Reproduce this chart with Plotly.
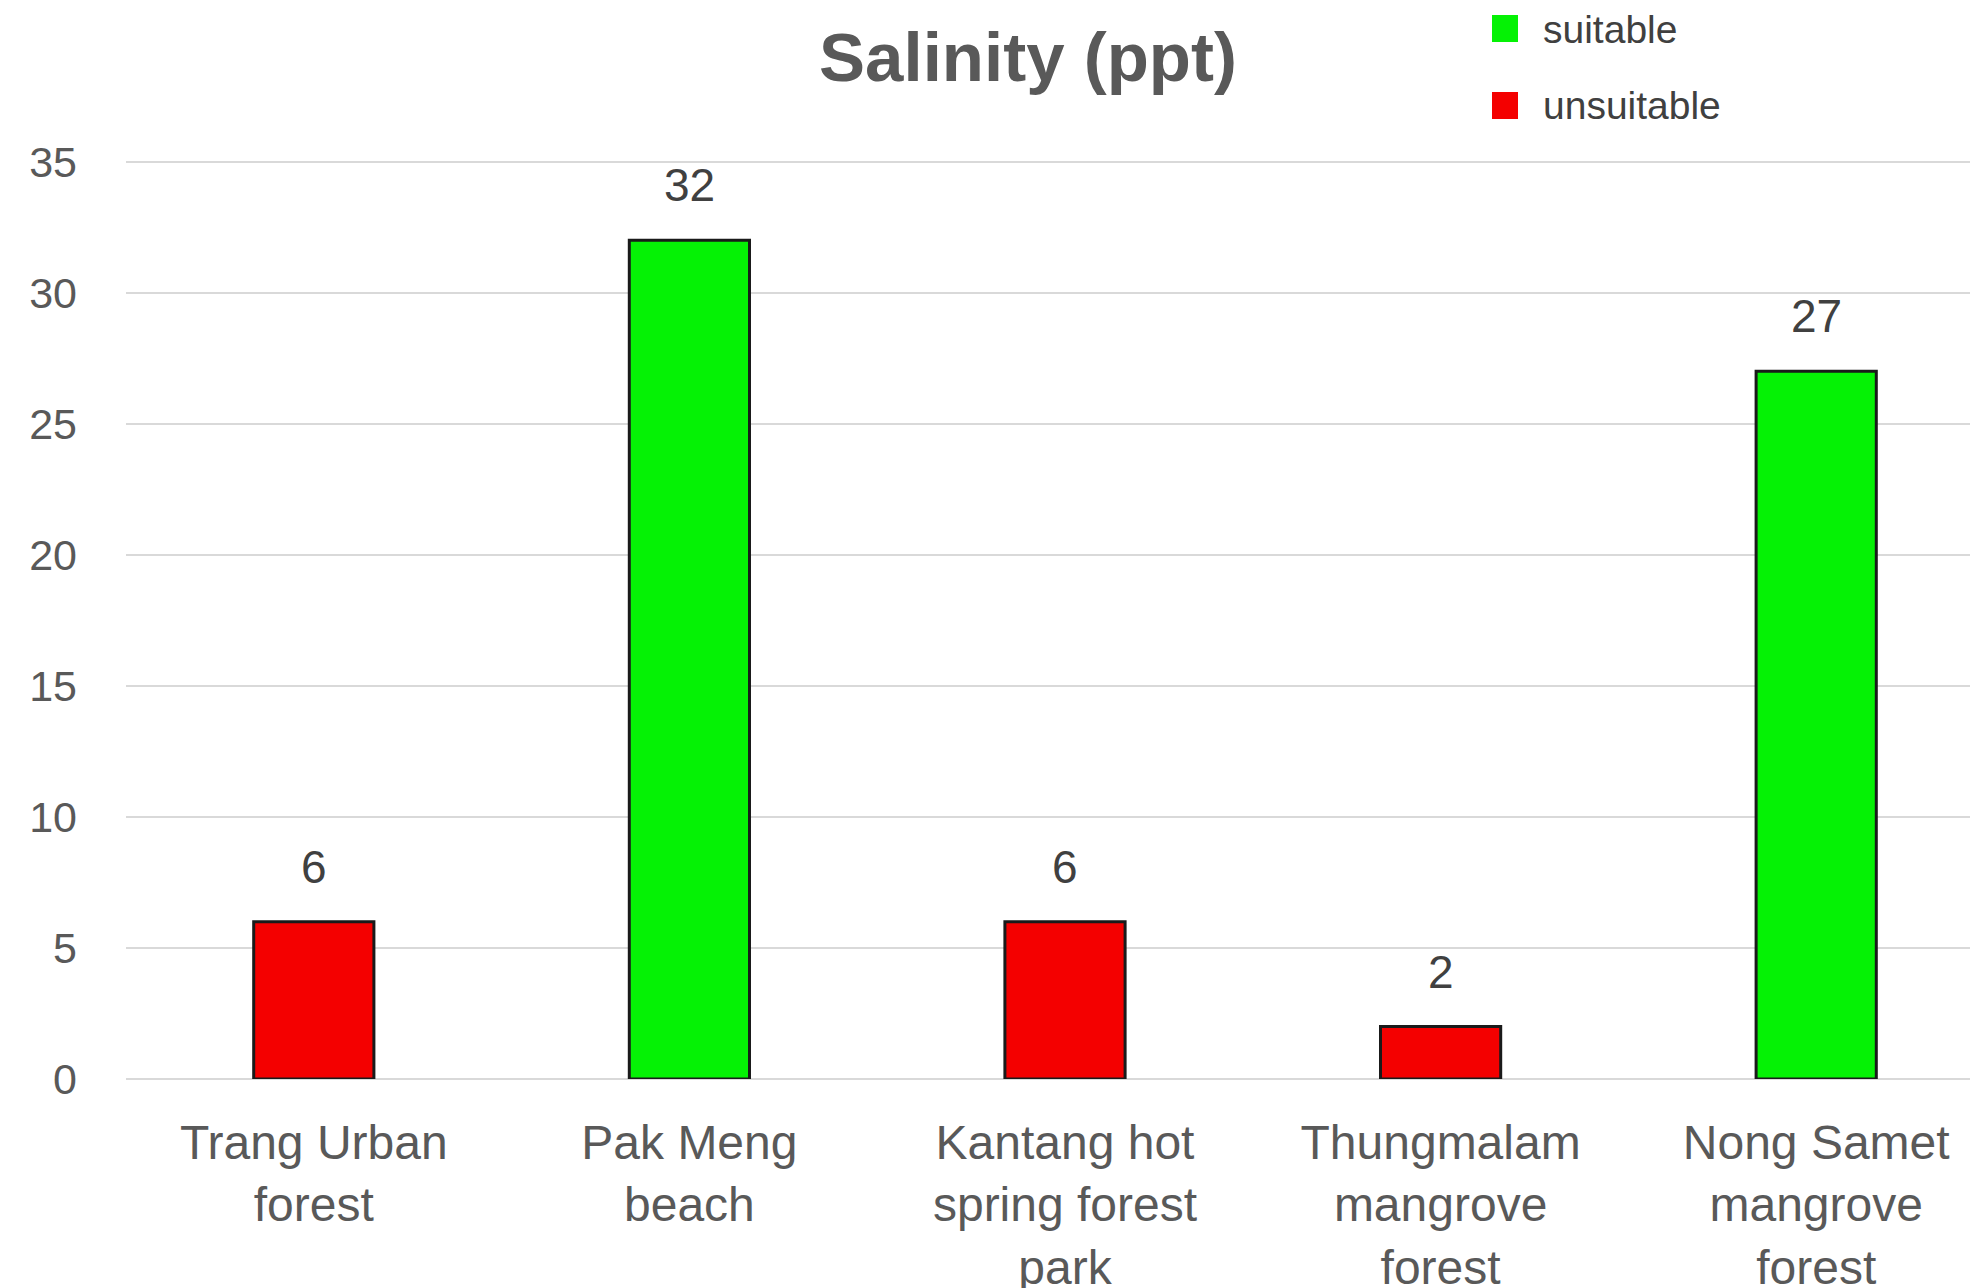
import plotly.graph_objects as go

# ---- data ----
categories = ["Trang Urban<br>forest", "Pak Meng<br>beach", "Kantang hot<br>spring forest<br>park",
              "Thungmalam<br>mangrove<br>forest", "Nong Samet<br>mangrove<br>forest"]
salinity = [6, 32, 6, 2, 27]
status = ["unsuitable", "suitable", "unsuitable", "unsuitable", "suitable"]
legend_names = ["suitable", "unsuitable"]
y_ticks = [0, 5, 10, 15, 20, 25, 30, 35]

colors = {"suitable": "#05F205", "unsuitable": "#F40000"}

OFF = 8  # default page body margin
W, H = 1978, 1288
ML = 126 - OFF
MR = 0
MT = 159 - OFF
MB = H - (1079 - OFF)
PW, PH = W - ML - MR, H - MT - MB
CAT_PX = 375.6
x_max = -0.5 + PW / CAT_PX


def px_x(p):
    return (p - OFF - ML) / PW


def px_y(p):
    return (H - MB - (p - OFF)) / PH


FONT = "Liberation Sans, Arial"

fig = go.Figure()
for name in legend_names:
    xs = [c for c, s in zip(categories, status) if s == name]
    ys = [v for v, s in zip(salinity, status) if s == name]
    fig.add_trace(go.Bar(
        x=xs, y=ys, name=name, width=0.32,
        marker=dict(color=colors[name], line=dict(color="#1a1a1a", width=3)),
        showlegend=False, hoverinfo="x+y",
    ))

# value labels above bars
for c, v in zip(categories, salinity):
    fig.add_annotation(x=c, y=v, text=str(v), showarrow=False, yshift=55,
                       font=dict(family=FONT, size=46, color="#404040"))

# manual legend
leg_rows = [(15, 42, 29), (92, 119, 105)]
for name, (t, b, cy) in zip(legend_names, leg_rows):
    fig.add_shape(type="rect", xref="paper", yref="paper",
                  x0=px_x(1492), x1=px_x(1518), y0=px_y(b), y1=px_y(t),
                  fillcolor=colors[name], line=dict(width=0))
    fig.add_annotation(xref="paper", yref="paper", x=px_x(1541), y=px_y(cy),
                       xanchor="left", yanchor="middle", text=name, showarrow=False,
                       font=dict(family=FONT, size=39, color="#404040"))

fig.update_layout(
    width=W, height=H,
    margin=dict(l=ML, r=MR, t=MT, b=MB, pad=0, autoexpand=False),
    plot_bgcolor="white", paper_bgcolor="white",
    barmode="overlay",
    title=dict(text="<b>Salinity (ppt)</b>", x=(1028 - OFF) / W, xanchor="center",
               y=1 - (57 - OFF) / H, yanchor="middle",
               font=dict(family=FONT, size=69, color="#595959")),
    xaxis=dict(categoryorder="array", categoryarray=categories, range=[-0.5, x_max],
               showgrid=False, showline=False, zeroline=False, ticks="",
               tickfont=dict(family=FONT, size=48, color="#595959"),
               ticklabelstandoff=31, automargin=False),
    yaxis=dict(range=[0, 35.1], tickvals=y_ticks, showgrid=True, gridcolor="#d9d9d9",
               gridwidth=2, zeroline=True, zerolinecolor="#d9d9d9", zerolinewidth=2,
               showline=False, ticks="",
               tickfont=dict(family=FONT, size=43, color="#595959"),
               ticklabelstandoff=48, automargin=False),
)

fig.write_html("out.html")
